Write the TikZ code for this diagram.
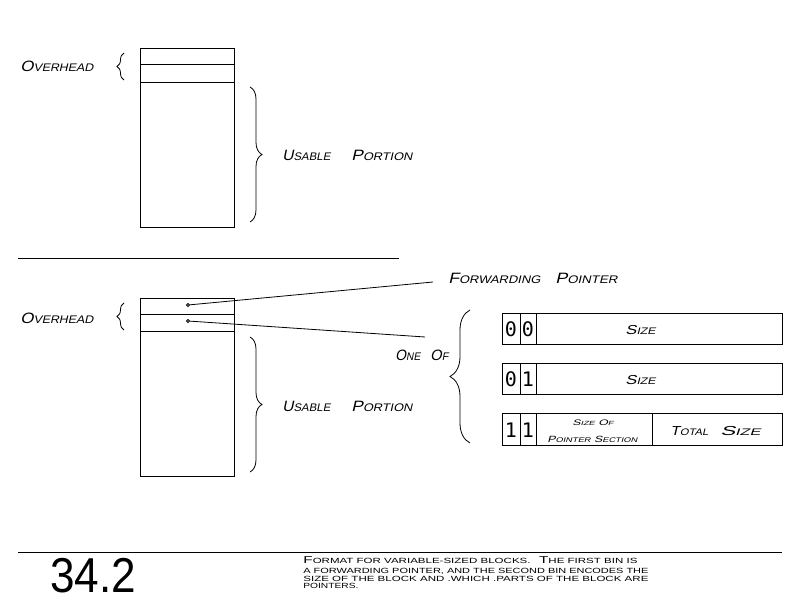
\documentclass[tikz,border=0pt]{standalone}
\usepackage{fontspec}
\usepackage{graphicx}
\usetikzlibrary{decorations.pathreplacing}
\setmainfont{Liberation Sans}
\newfontfamily\cad[FakeSlant=0.2]{Liberation Sans}
\newfontfamily\capfont{Liberation Sans}
\newfontfamily\digfont{DejaVu Sans Mono}
\newfontfamily\bigfont[FakeStretch=0.9]{Liberation Sans}
\def\smsize{11}
\newcommand\sm[1]{{\fontsize{\smsize}{\smsize}\selectfont #1}}
\newcommand\fitw[2]{\resizebox{#1}{\height}{#2}}
\tikzset{
  lw/.style={line width=0.8pt},
  blockbox/.style={draw, lw, inner sep=0pt, anchor=north west},
  lbl/.style={anchor=base west, inner sep=0pt, font=\cad\fontsize{15}{15}\selectfont\def\smsize{11}},
  boxlbl/.style={anchor=base west, inner sep=0pt, font=\cad\fontsize{13}{13}\selectfont\def\smsize{9.5}},
  dig/.style={anchor=base, inner sep=0pt, font=\digfont\fontsize{20}{20}\selectfont},
  captxt/.style={anchor=base west, inner sep=0pt, font=\capfont\fontsize{7.5}{7.5}\selectfont\def\smsize{7.5}},
  brc/.style={decorate, lw, decoration={brace, amplitude=#1}},
  pdot/.style={circle, draw, lw, inner sep=0pt, minimum size=3pt},
}
\begin{document}
\begin{tikzpicture}[x=1pt, y=-1pt, lw]
\useasboundingbox (0,0) rectangle (792,612);
\fill[white] (0,0) rectangle (792,612);

% ---------- top block ----------
\node[blockbox, minimum width=94pt, minimum height=179pt] (blkA) at (140,48) {};
\draw[lw] (140,64) -- (234,64);
\draw[lw] (140,82) -- (234,82);
\node[lbl] (ovA) at (20,72) {\fitw{73pt}{O\sm{VERHEAD}}};
\draw[brc=7] (124,80) -- (124,53);
\draw[brc=12] (250,87) -- (250,222);
\node[lbl] (usA) at (282,161) {\fitw{48pt}{U\sm{SABLE}}\hspace{21pt}\fitw{61pt}{P\sm{ORTION}}};

% separator
\draw[lw] (18,258) -- (399,258);

% ---------- bottom block ----------
\node[blockbox, minimum width=94pt, minimum height=178pt] (blkB) at (140,298) {};
\draw[lw] (140,314) -- (234,314);
\draw[lw] (140,331) -- (234,331);
\node[lbl] (ovB) at (20,323) {\fitw{73pt}{O\sm{VERHEAD}}};
\draw[brc=7] (124,330) -- (124,303);
\draw[brc=12] (250,337) -- (250,472);
\node[lbl] (usB) at (282,411) {\fitw{48pt}{U\sm{SABLE}}\hspace{21pt}\fitw{61pt}{P\sm{ORTION}}};

\node[pdot] (p1) at (188,305) {};
\node[pdot] (p2) at (188,321) {};
\coordinate (fwdend) at (433,282);
\coordinate (oneend) at (425,337);
\draw[lw] (p1) -- (fwdend);
\draw[lw] (p2) -- (oneend);
\node[lbl] (fwd) at (448,283) {\fitw{92pt}{F\sm{ORWARDING}}\hspace{15pt}\fitw{62pt}{P\sm{OINTER}}};
\node[lbl] (oneof) at (395,360) {\fitw{25pt}{O\sm{NE}}\hspace{10pt}\fitw{18pt}{O\sm{F}}};
\draw[brc=20] (470,443) -- (470,310);

% ---------- formats ----------
\draw[lw] (502,313) rectangle (782,344);
\draw[lw] (520,313) -- (520,344);
\draw[lw] (536,313) -- (536,344);
\node[dig] (a0) at (511,336) {0};
\node[dig] (a1) at (528,336) {0};
\node[boxlbl] (sa) at (625,334) {\fitw{30pt}{S\sm{IZE}}};

\draw[lw] (502,363) rectangle (782,394);
\draw[lw] (520,363) -- (520,394);
\draw[lw] (536,363) -- (536,394);
\node[dig] (b0) at (511,386) {0};
\node[dig] (b1) at (528,386) {1};
\node[boxlbl] (sb) at (625,384) {\fitw{30pt}{S\sm{IZE}}};

\draw[lw] (502,413) rectangle (782,445);
\draw[lw] (520,413) -- (520,445);
\draw[lw] (536,413) -- (536,445);
\draw[lw] (652,413) -- (652,445);
\node[dig] (c0) at (511,437) {1};
\node[dig] (c1) at (528,437) {1};
\node[anchor=base west, inner sep=0pt, font=\cad\fontsize{8}{8}\selectfont\def\smsize{6}] (so) at (572,425) {\fitw{41pt}{S\sm{IZE} O\sm{F}}};
\node[anchor=base west, inner sep=0pt, font=\cad\fontsize{9}{9}\selectfont\def\smsize{6.8}] (ps) at (547,442) {\fitw{90pt}{P\sm{OINTER} S\sm{ECTION}}};
\node[boxlbl] (ts) at (670,435) {\fitw{38pt}{T\sm{OTAL}}\hspace{12pt}\fitw{40pt}{S\sm{IZE}}};

% ---------- caption ----------
\draw[lw] (18,552) -- (782,552);
\node[anchor=base west, inner sep=0pt, font=\bigfont\fontsize{49}{49}\selectfont] (num) at (50,592) {34.2};
\node[captxt] (l1) at (303,563) {\fitw{334pt}{\fontsize{10}{10}\selectfont F\sm{ORMAT FOR VARIABLE-SIZED BLOCKS.}\ \ T\sm{HE FIRST BIN IS}}};
\node[captxt] (l2) at (303,573) {\fitw{345pt}{A FORWARDING POINTER, AND THE SECOND BIN ENCODES THE}};
\node[captxt] (l3) at (303,581) {\fitw{345pt}{SIZE OF THE BLOCK AND .WHICH .PARTS OF THE BLOCK ARE}};
\node[captxt] (l4) at (303,588) {\fitw{55pt}{POINTERS.}};
\end{tikzpicture}
\end{document}
